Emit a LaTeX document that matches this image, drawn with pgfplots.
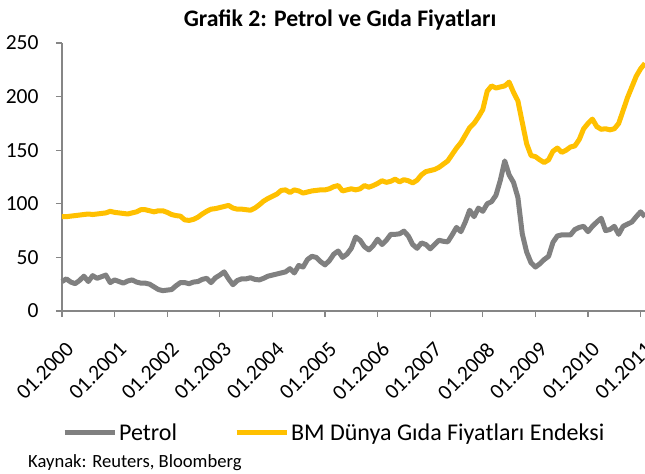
\documentclass[border=0pt]{standalone}
\usepackage{fontspec}
\setmainfont{Carlito}
\usepackage{pgfplots}
\usepackage{pgfplotstable}
\pgfplotsset{compat=1.18}
\definecolor{oilgray}{HTML}{808080}
\definecolor{foodgold}{HTML}{FFC000}
\definecolor{axgray}{HTML}{868686}

\pgfplotstableread{
m oil food
0 27.5 88
1 30 88
2 27 88.5
3 25.5 89
4 28.5 89.5
5 32.5 90
6 27.5 90.5
7 33 90
8 30.5 90.5
9 32 91
10 33.5 91.5
11 26.5 93
12 29 92
13 27.5 91.5
14 26 91
15 28 90.5
16 29 91.5
17 27 92.5
18 26 94.5
19 26 94.5
20 25 93.5
21 22.5 92.5
22 20 93.5
23 19 93.5
24 19.5 92
25 20 90
26 23.5 89
27 26.5 88.5
28 26.5 85
29 25.5 84.5
30 27 85.5
31 27.5 87.5
32 29.5 90.5
33 30.5 93
34 26.5 95
35 31 95.5
36 33.5 96.5
37 36.5 97.5
38 30 98.5
39 24.5 96
40 28.5 95
41 30 95
42 30 94.5
43 31 94
44 29.5 96
45 29 99
46 30.5 102.5
47 32.5 105
48 33.5 107
49 34.5 109
50 35.5 112.5
51 36.5 113
52 39.5 110.5
53 35.5 113
54 42.5 112
55 41 110
56 48 111
57 51 112
58 50 112.5
59 46 113
60 43 113
61 47 114
62 53 116
63 56 117
64 50 112
65 53 113
66 58.5 114
67 69 113
68 66 114
69 60 117
70 57 115.5
71 61 117
72 67 119
73 62 121.5
74 66 120
75 71.5 121
76 71.5 123
77 72 120.5
78 74.5 122.5
79 70 121.5
80 62 119.5
81 58.5 122
82 63.5 127
83 62 130
84 58 131
85 62 132
86 66 134
87 65 137
88 64.5 140
89 71 146
90 78 152
91 74 157
92 83 164
93 94 171
94 88 175
95 96 181
96 93 188
97 100 205
98 102 210
99 108 208
100 122 209
101 140 210
102 127 213.5
103 120 204
104 106 196
105 72 176
106 55 156
107 45 145
108 41 144
109 44 141
110 48 138.5
111 51 141
112 64 149
113 70 152
114 71 148
115 71 150
116 71 153
117 76 154
118 78 160
119 79 170
120 74 175
121 79 179
122 83 172
123 86.5 169.5
124 75 170
125 76 169
126 79 170
127 71.5 175
128 79 187
129 81 199
130 83 209
131 88 219
132 92.5 226
133 88 231
}\datatable

\begin{document}
\begin{tikzpicture}
\begin{axis}[
  scale only axis,
  width=583bp, height=268bp,
  xmin=0, xmax=133,
  ymin=0, ymax=250,
  axis x line=bottom, axis y line=left,
  axis line style={-, draw=axgray, line width=1.3bp},
  tick style={draw=axgray, line width=1.3bp},
  tick align=outside,
  major tick length=6bp,
  xtick={0,12,...,132},
  xticklabels={01.2000,01.2001,01.2002,01.2003,01.2004,01.2005,01.2006,01.2007,01.2008,01.2009,01.2010,01.2011},
  ytick={0,50,...,250},
  /pgf/number format/assume math mode=true,
  ticklabel style={font=\fontsize{21.5bp}{24bp}\selectfont, text=black},
  yticklabel style={xshift=-14bp},
  xticklabel style={xshift=3bp, yshift=-19bp, rotate=45, anchor=north east},
  clip=false,
  legend columns=2,
  legend style={draw=none, fill=none, at={(0,-0.455)}, anchor=west,
    font=\fontsize{24bp}{28bp}\selectfont, inner sep=0pt,
    /tikz/every even column/.append style={column sep=55bp}},
  legend image code/.code={\draw[#1] (0bp,0bp) -- (50bp,0bp);},
]
\addplot[oilgray, line width=5bp, line join=round] table[x=m, y=oil] {\datatable};
\addlegendentry{Petrol}
\addplot[foodgold, line width=5bp, line join=round] table[x=m, y=food] {\datatable};
\addlegendentry{BM Dünya Gıda Fiyatları Endeksi}
\node[anchor=base, font=\fontsize{23.7bp}{28bp}\selectfont\bfseries] at (axis description cs:0.477,1.060) {Grafik 2: Petrol ve Gıda Fiyatları};
\node[anchor=west, font=\fontsize{18.6bp}{22bp}\selectfont, inner sep=0pt] at (axis description cs:-0.0583,-0.567) {Kaynak: Reuters, Bloomberg};
\end{axis}
\pgfresetboundingbox
\useasboundingbox (-62bp,-163bp) rectangle (583bp,311bp);
\end{tikzpicture}
\end{document}
